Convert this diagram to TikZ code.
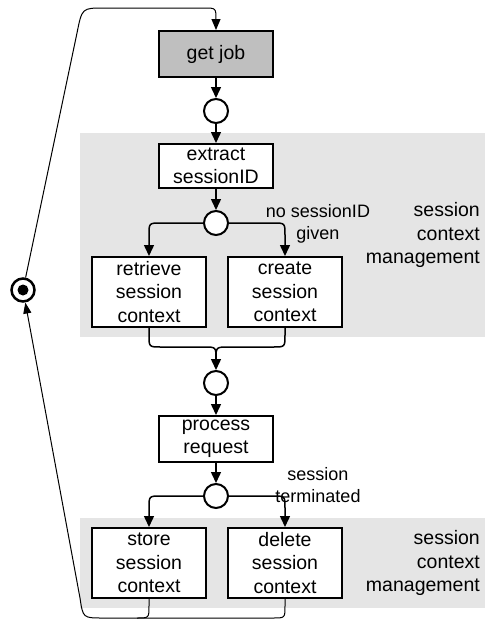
\documentclass[tikz,border=0pt]{standalone}
\usepackage{fontspec}
\setmainfont{Liberation Sans}
\usetikzlibrary{arrows.meta}
\begin{document}
\begin{tikzpicture}[x=1pt,y=-1pt,
  every node/.style={font=\fontsize{19.5}{23.3}\selectfont, inner sep=0pt},
  area/.style={fill=gray!20, draw=none},
  action/.style={draw, line width=2pt, fill=white, minimum width=114pt, align=center},
  state/.style={draw, circle, line width=2pt, fill=white, minimum size=24pt},
  flow/.style={line width=1.5pt, -{Triangle[length=11pt,width=10pt]}},
  plain/.style={line width=1.5pt},
  loopline/.style={line width=1pt},
  note/.style={font=\fontsize{18}{22.5}\selectfont, align=center},
  region/.style={align=right, anchor=east}
]
\useasboundingbox (0,0) rectangle (485,622);

% session context management areas
\fill[area] (80,133) rectangle (485,337);
\fill[area] (80,518) rectangle (485,608);

% actions
\node[action, fill=gray!50, minimum height=46pt] (getjob) at (216,54) {get job};
\node[action, minimum height=44pt] (extract) at (216,166) {extract\\sessionID};
\node[action, minimum height=70pt] (retrieve) at (149,292) {retrieve\\session\\context};
\node[action, minimum height=70pt] (create) at (285,292) {create\\session\\context};
\node[action, minimum height=46pt] (process) at (216,439) {process\\request};
\node[action, minimum height=70pt] (storectx) at (149,563) {store\\session\\context};
\node[action, minimum height=70pt] (deletectx) at (285,563) {delete\\session\\context};

% states
\node[state] (s1) at (216,111) {};
\node[state] (s2) at (216,223) {};
\node[state] (s3) at (216,383) {};
\node[state] (s4) at (216,496) {};
\node[state, minimum size=23pt, line width=2.5pt] (fin) at (23,290) {};
\fill (fin) circle (5.5pt);

% labels
\node[note] (nosid) at (318,224) {no sessionID\\given};
\node[note] (term) at (318,485) {session\\terminated};
\node[region] (r1) at (480,235) {session\\context\\management};
\node[region] (r2) at (480,563) {session\\context\\management};

% main sequence
\draw[flow] (getjob) -- (s1);
\draw[flow] (s1) -- (extract);
\draw[flow] (extract) -- (s2);

% branch to retrieve / create
\draw[flow] (s2.west) -- (161,223) .. controls (149,223) .. (149,235) -- (retrieve.north);
\draw[flow] (s2.east) -- (273,223) .. controls (285,223) .. (285,235) -- (create.north);

% merge into s3
\draw[plain] (create.south) -- (285,335) .. controls (285,347) .. (273,347) -- (229,347) .. controls (216,347) .. (216,359);
\draw[flow] (retrieve.south) -- (149,335) .. controls (149,347) .. (161,347) -- (204,347) .. controls (216,347) .. (216,359) -- (s3.north);

\draw[flow] (s3) -- (process);
\draw[flow] (process) -- (s4);

% branch to store / delete
\draw[flow] (s4.west) -- (161,496) .. controls (149,496) .. (149,508) -- (storectx.north);
\draw[flow] (s4.east) -- (273,496) .. controls (285,496) .. (285,508) -- (deletectx.north);

% return loop
\draw[loopline] (storectx.south) -- (149,606) .. controls (149,618) .. (137,618);
\draw[loopline, -{Triangle[length=11pt,width=8pt]}] (deletectx.south) -- (285,606) .. controls (285,618) .. (273,618) -- (103,618) .. controls (83,618) .. (80,598) -- (fin);
\draw[loopline, -{Triangle[length=11pt,width=9pt]}] (fin) -- (77,33) .. controls (82,8) .. (104,8) -- (204,8) .. controls (216,8) .. (216,20) -- (getjob.north);
\end{tikzpicture}
\end{document}
